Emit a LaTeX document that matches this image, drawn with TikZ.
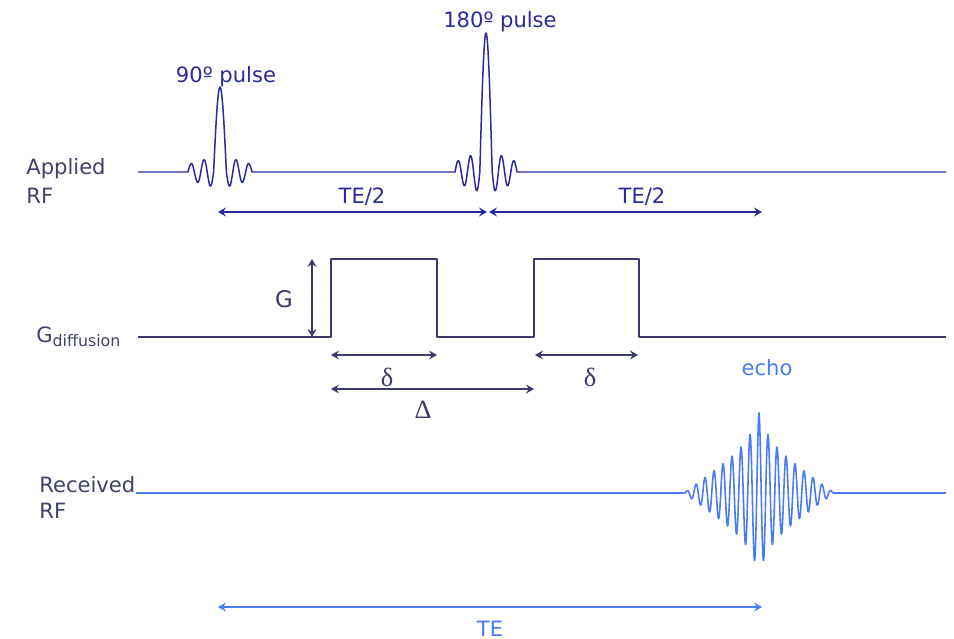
\documentclass[tikz,border=0pt]{standalone}
\usepackage{fontspec}
\setmainfont{DejaVu Sans}
\newfontfamily\greekfont{Liberation Serif}
\usetikzlibrary{arrows.meta}
\definecolor{rfblue}{HTML}{2A2A9C}
\definecolor{labgray}{HTML}{40406C}
\definecolor{gradnavy}{HTML}{3A3A6C}
\definecolor{echoblue}{HTML}{4A7BF5}

\begin{document}
\begin{tikzpicture}[x=0.02cm,y=-0.02cm,
        wave/.style={line width=0.85pt,line join=round},
        dim/.style={line width=0.8pt,
                    {Stealth[length=1.6mm,width=1.8mm,inset=0.6mm]}-{Stealth[length=1.6mm,width=1.8mm,inset=0.6mm]}},
        lab/.style={font=\fontsize{12}{14}\selectfont,inner sep=0pt},
        greek/.style={inner sep=0pt,font=\greekfont\fontsize{15}{16}\selectfont},
        rowlab/.style={lab,text=labgray,anchor=base west}]
  \useasboundingbox (0,0) rectangle (954,639);

  % row labels
  \node[rowlab] (appl) at (26,174) {Applied};
  \node[rowlab] (applrf) at (26,203) {RF};
  \node[rowlab] (gdiff) at (36,342) {G\raisebox{-2.8pt}{\fontsize{9}{10}\selectfont diffusion}};
  \node[rowlab] (recv) at (39,492) {Received};
  \node[rowlab] (recvrf) at (39,518) {RF};

  % applied RF: 90 and 180 pulses
  \draw[wave,rfblue] (138,172) -- (188,172)
    -- plot[domain=-32:-6.4,samples=80] ({220+\x},{172+15*sin(180*(abs(\x)-6.4)/6.4)*(1-0.5*(abs(\x)-6.4)/25.6)})
    -- plot[domain=-6.4:6.4,samples=40] ({220+\x},{172-85*cos(90*\x/6.4)})
    -- plot[domain=6.4:32,samples=80] ({220+\x},{172+15*sin(180*(abs(\x)-6.4)/6.4)*(1-0.5*(abs(\x)-6.4)/25.6)})
    -- (455,172)
    -- plot[domain=-31:-6.2,samples=80] ({486+\x},{172+20*sin(180*(abs(\x)-6.2)/6.2)*(1-0.5*(abs(\x)-6.2)/24.8)})
    -- plot[domain=-6.2:6.2,samples=40] ({486+\x},{172-139*cos(90*\x/6.2)})
    -- plot[domain=6.2:31,samples=80] ({486+\x},{172+20*sin(180*(abs(\x)-6.2)/6.2)*(1-0.5*(abs(\x)-6.2)/24.8)})
    -- (946,172);
  \node[lab,text=rfblue,anchor=base] (p90) at (226,82) {90º pulse};
  \node[lab,text=rfblue,anchor=base] (p180) at (500,28) {180º pulse};

  \coordinate (h1a) at (218,212);
  \coordinate (h1b) at (487,212);
  \coordinate (h2a) at (489,212);
  \coordinate (h2b) at (762,212);
  \draw[dim,rfblue] (h1a) -- (h1b);
  \draw[dim,rfblue] (h2a) -- (h2b);
  \node[lab,text=rfblue,anchor=base] (te1) at (362,203) {TE/2};
  \node[lab,text=rfblue,anchor=base] (te2) at (642,203) {TE/2};

  % diffusion gradient
  \draw[wave,gradnavy] (138,337) -- (331,337) -- (331,259) -- (437,259) -- (437,337)
    -- (534,337) -- (534,259) -- (639,259) -- (639,337) -- (946,337);
  \coordinate (ga) at (312,259);
  \coordinate (gb) at (312,337);
  \draw[dim,gradnavy] (ga) -- (gb);
  \node[lab,text=gradnavy,anchor=base,font=\fontsize{13}{14}\selectfont] (glab) at (284,307) {G};

  \coordinate (d1a) at (331,355);
  \coordinate (d1b) at (437,355);
  \coordinate (d2a) at (535,355);
  \coordinate (d2b) at (638,355);
  \coordinate (bda) at (331,389);
  \coordinate (bdb) at (534,389);
  \draw[dim,gradnavy] (d1a) -- (d1b);
  \draw[dim,gradnavy] (d2a) -- (d2b);
  \draw[dim,gradnavy] (bda) -- (bdb);
  \node[greek,text=gradnavy] (del1) at (387,377) {δ};
  \node[greek,text=gradnavy] (del2) at (590,377) {δ};
  \node[greek,text=gradnavy] (Del) at (423,410) {Δ};

  % received RF with echo
  \draw[wave,echoblue,line width=0.9pt] (136,493) -- (684,493)
    -- plot[domain=-75:75,samples=401] ({759+\x},{493-(25*exp(-abs(\x)/10)+55*(1-abs(\x)/75))*cos(40*\x)})
    -- (946,493);
  \node[lab,text=echoblue,anchor=base] (echo) at (767,375) {echo};

  \coordinate (tea) at (218,607);
  \coordinate (teb) at (762,607);
  \draw[dim,echoblue] (tea) -- (teb);
  \node[lab,text=echoblue,anchor=base] (telab) at (490,636) {TE};
\end{tikzpicture}
\end{document}
